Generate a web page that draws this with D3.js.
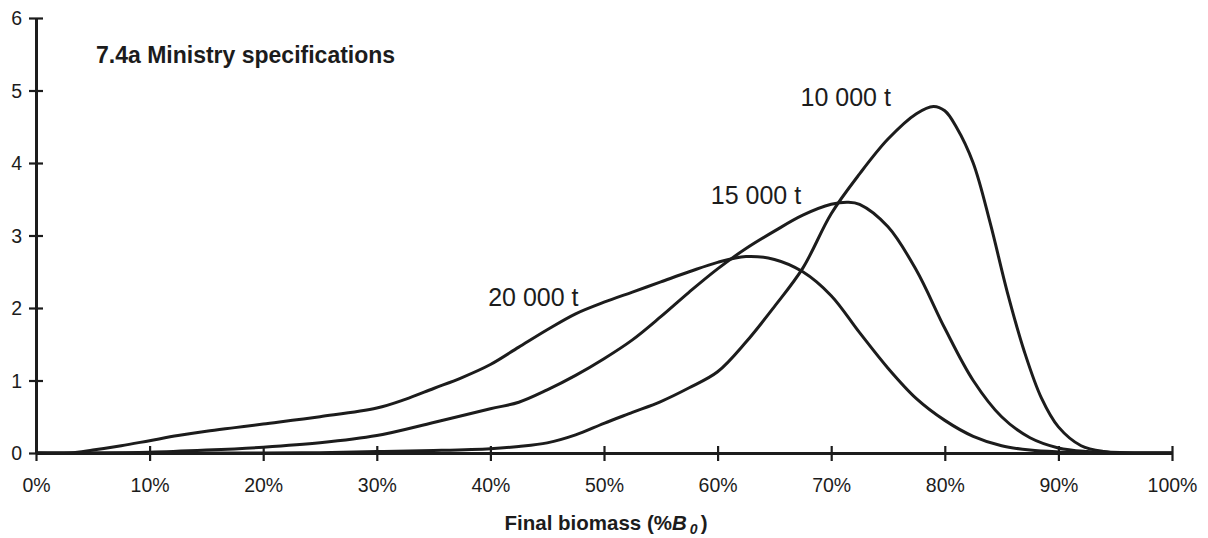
<!DOCTYPE html>
<html>
<head>
<meta charset="utf-8">
<script src="https://cdn.jsdelivr.net/npm/d3@7"></script>
<style>
  html, body { margin: 0; padding: 0; background: #fff; }
  svg { display: block; font-family: "Liberation Sans", Arial, sans-serif; }
</style>
</head>
<body>
<svg id="chart" width="1208" height="538"></svg>
<script>
// ---- data ----
const chartTitle = "7.4a Ministry specifications";
const xTicks = [0, 10, 20, 30, 40, 50, 60, 70, 80, 90, 100];
const yTicks = [0, 1, 2, 3, 4, 5, 6];

const pct10000 = [0,10,20,25,30,35,40,42.5,45,47.5,50,52.5,55,57.5,60,62.5,65,67.5,70,72.5,75,77.5,79,80,81,82.5,84,85.5,87,88.5,90,92,94,96,100];
const val10000 = [0,0,0,0.005,0.02,0.035,0.06,0.09,0.14,0.25,0.41,0.56,0.71,0.9,1.12,1.53,2.02,2.55,3.3,3.85,4.33,4.68,4.78,4.72,4.5,4.0,3.17,2.22,1.4,0.76,0.36,0.1,0.02,0.005,0];

const pct15000 = [0,5,10,15,20,25,30,35,40,42.5,45,47.5,50,52.5,55,57.5,60,62.5,65,67.5,70,71.5,72.5,75,77.5,80,82.5,85,87.5,90,92.5,95,100];
const val15000 = [0,0,0.01,0.04,0.08,0.14,0.24,0.42,0.61,0.7,0.87,1.07,1.3,1.56,1.88,2.22,2.54,2.82,3.06,3.28,3.43,3.46,3.43,3.12,2.52,1.72,1.0,0.5,0.21,0.07,0.02,0.005,0];

const pct20000 = [0,3,5,7.5,10,12.5,15,17.5,20,25,30,32.5,35,37.5,40,42.5,45,47.5,50,52.5,55,57.5,60,62.5,65,67.5,70,72.5,75,77.5,80,82.5,85,87.5,90,92.5,95,100];
const val20000 = [0,0,0.04,0.1,0.17,0.24,0.3,0.35,0.4,0.5,0.62,0.74,0.89,1.04,1.22,1.46,1.7,1.92,2.08,2.22,2.36,2.5,2.63,2.71,2.67,2.5,2.17,1.66,1.17,0.75,0.45,0.23,0.1,0.04,0.015,0.005,0,0];

const seriesNames = ["10 000 t", "15 000 t", "20 000 t"];
const seriesPct = [pct10000, pct15000, pct20000];
const seriesVal = [val10000, val15000, val20000];
// label anchor (data coords: % biomass, value)
const labelPct = [67.3, 59.4, 39.8];
const labelVal = [4.78, 3.43, 2.03];

// ---- layout ----
const svg = d3.select("#chart");
const ink = "#1c1c1c";
const x = d3.scaleLinear().domain([0, 100]).range([36, 1172]);
const y = d3.scaleLinear().domain([0, 6]).range([453, 18]);

// curves
const line = d3.line()
  .x(d => x(d[0]))
  .y(d => y(Math.max(0, d[1])))
  .curve(d3.curveCatmullRom.alpha(0.5));

seriesNames.forEach((name, i) => {
  const pts = seriesPct[i].map((p, j) => [p, seriesVal[i][j]]);
  svg.append("path")
    .datum(pts)
    .attr("d", line)
    .attr("fill", "none")
    .attr("stroke", ink)
    .attr("stroke-width", 3)
    .attr("stroke-linejoin", "round");
});

// x axis
const xAxis = svg.append("g")
  .attr("transform", `translate(0,${y(0)})`)
  .call(d3.axisBottom(x).tickValues(xTicks).tickFormat(d => d + "%").tickSize(7).tickSizeOuter(0));
xAxis.select(".domain").attr("stroke", ink).attr("stroke-width", 3);
xAxis.selectAll(".tick line").attr("y1", -7).attr("y2", 8).attr("stroke", ink).attr("stroke-width", 2.2);
xAxis.selectAll(".tick text")
  .attr("y", 39).attr("dy", null)
  .attr("font-size", 19.5).attr("fill", ink)
  .attr("font-family", "Liberation Sans, Arial, sans-serif");

// y axis
const yAxis = svg.append("g")
  .attr("transform", `translate(${x(0)},0)`)
  .call(d3.axisLeft(y).tickValues(yTicks).tickFormat(d3.format("d")).tickSize(7).tickSizeOuter(0));
yAxis.select(".domain").attr("stroke", ink).attr("stroke-width", 3);
yAxis.selectAll(".tick line").attr("x1", -7).attr("x2", 7).attr("stroke", ink).attr("stroke-width", 2.2);
yAxis.selectAll(".tick text")
  .attr("x", -14).attr("dy", "0.35em")
  .attr("font-size", 19.5).attr("fill", ink)
  .attr("font-family", "Liberation Sans, Arial, sans-serif");

// title
svg.append("text")
  .attr("x", 96).attr("y", 63)
  .attr("font-size", 23).attr("font-weight", "bold").attr("fill", ink)
  .text(chartTitle);

// curve labels
seriesNames.forEach((name, i) => {
  svg.append("text")
    .attr("x", x(labelPct[i])).attr("y", y(labelVal[i]))
    .attr("font-size", 25).attr("fill", ink)
    .text(name);
});

// x axis title
const xt = svg.append("text")
  .attr("x", x(50) + 2).attr("y", 530)
  .attr("text-anchor", "middle")
  .attr("font-size", 20.5).attr("font-weight", "bold").attr("fill", ink);
xt.append("tspan").text("Final biomass (%");
xt.append("tspan").attr("font-style", "italic").text("B");
xt.append("tspan").attr("font-style", "italic").attr("font-size", 14).attr("dy", 4).attr("dx", 3).text("0");
xt.append("tspan").attr("dy", -4).attr("dx", 3).text(")");
</script>
</body>
</html>
